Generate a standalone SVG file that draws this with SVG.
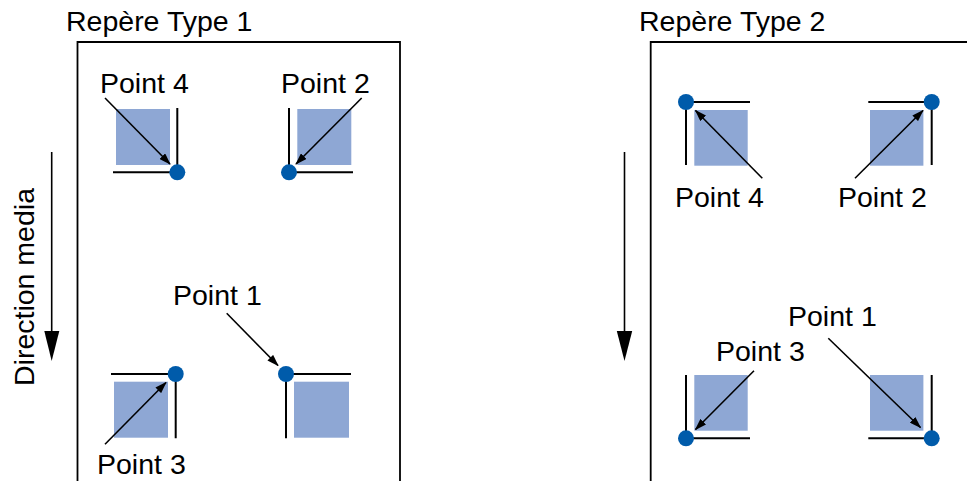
<svg xmlns="http://www.w3.org/2000/svg" width="967" height="481" viewBox="0 0 967 481">
<style>
text{font-family:"Liberation Sans",Arial,sans-serif;font-size:28.5px;fill:#000}
.frame{fill:none;stroke:#000;stroke-width:1.8}
.corner{fill:none;stroke:#000;stroke-width:2}
.sq{fill:#8ea7d4}
.dot{fill:#005baa}
.arr{stroke:#000;stroke-width:1.6;fill:none;marker-end:url(#ah)}
.dir{stroke:#000;stroke-width:1.6;fill:none}
</style>
<defs>
<marker id="ah" markerUnits="userSpaceOnUse" markerWidth="12" markerHeight="8" refX="11" refY="4" orient="auto">
<path d="M0,0 L12,4 L0,8 z" fill="#000"/>
</marker>
</defs>
<rect width="967" height="481" fill="#fff"/>

<g id="type1">
<text x="66" y="31">Repère Type 1</text>
<path class="frame" d="M77.5,481 V42 H400 V481"/>
</g>
<g id="type2">
<text x="639" y="31">Repère Type 2</text>
<path class="frame" d="M650.7,481 V42 H967"/>
</g>

<g id="direction1">
<text transform="translate(33.5,386) rotate(-90)">Direction media</text>
<line class="dir" x1="51.7" y1="152" x2="51.7" y2="335"/>
<polygon points="44.3,331 59.3,331 51.7,361" fill="#000"/>
</g>
<g id="direction2">
<line class="dir" x1="624.5" y1="152" x2="624.5" y2="335"/>
<polygon points="616.8,331 632.2,331 624.5,361" fill="#000"/>
</g>

<!-- Type 1 marks -->
<g id="t1-p4">
<rect class="sq" x="116" y="109" width="54" height="56"/>
<path class="corner" d="M113,172.3 H177.3 V108"/>
<circle class="dot" cx="177.3" cy="172.3" r="8"/>
<text x="100" y="93">Point 4</text>
</g>
<g id="t1-p2">
<rect class="sq" x="297.3" y="109" width="54" height="56"/>
<path class="corner" d="M353,172.3 H289 V108"/>
<circle class="dot" cx="289" cy="172.3" r="8"/>
<text x="281" y="93">Point 2</text>
</g>
<g id="t1-p3">
<rect class="sq" x="114" y="381.7" width="54" height="56"/>
<path class="corner" d="M111,374 H175.7 V438.3"/>
<circle class="dot" cx="175.7" cy="374" r="8"/>
<text x="97" y="474">Point 3</text>
</g>
<g id="t1-p1">
<rect class="sq" x="294" y="381.7" width="55" height="56"/>
<path class="corner" d="M351,374 H286 V438.3"/>
<circle class="dot" cx="286" cy="374" r="8"/>
<text x="173" y="305">Point 1</text>
</g>

<!-- Type 2 marks -->
<g id="t2-p4">
<rect class="sq" x="694.3" y="110" width="53.4" height="55.7"/>
<path class="corner" d="M750,102 H686 V165"/>
<circle class="dot" cx="686" cy="102" r="8"/>
<text x="675" y="207">Point 4</text>
</g>
<g id="t2-p2">
<rect class="sq" x="870" y="110" width="53.4" height="55.7"/>
<path class="corner" d="M868.3,102 H931.7 V165"/>
<circle class="dot" cx="931.7" cy="102" r="8"/>
<text x="838" y="207">Point 2</text>
</g>
<g id="t2-p3">
<rect class="sq" x="694.3" y="375" width="53.4" height="55.7"/>
<path class="corner" d="M750,438.3 H686 V375"/>
<circle class="dot" cx="686" cy="438.3" r="8"/>
<text x="716" y="361">Point 3</text>
</g>
<g id="t2-p1">
<rect class="sq" x="870" y="375" width="53.4" height="55.7"/>
<path class="corner" d="M868.3,438.3 H931.7 V375"/>
<circle class="dot" cx="931.7" cy="438.3" r="8"/>
<text x="788" y="326">Point 1</text>
</g>

<g id="connectors">
<line class="arr" x1="105" y1="98" x2="170" y2="164"/>
<line class="arr" x1="361.7" y1="98" x2="296" y2="164"/>
<line class="arr" x1="226.7" y1="313.3" x2="278" y2="365.5"/>
<line class="arr" x1="105" y1="444.3" x2="166" y2="382.5"/>
<line class="arr" x1="762.3" y1="178.3" x2="695.5" y2="110.5"/>
<line class="arr" x1="855" y1="178.3" x2="923" y2="110.5"/>
<line class="arr" x1="754" y1="370.7" x2="695.5" y2="429.5"/>
<line class="arr" x1="828.3" y1="338.3" x2="920.5" y2="427.5"/>
</g>
</svg>
